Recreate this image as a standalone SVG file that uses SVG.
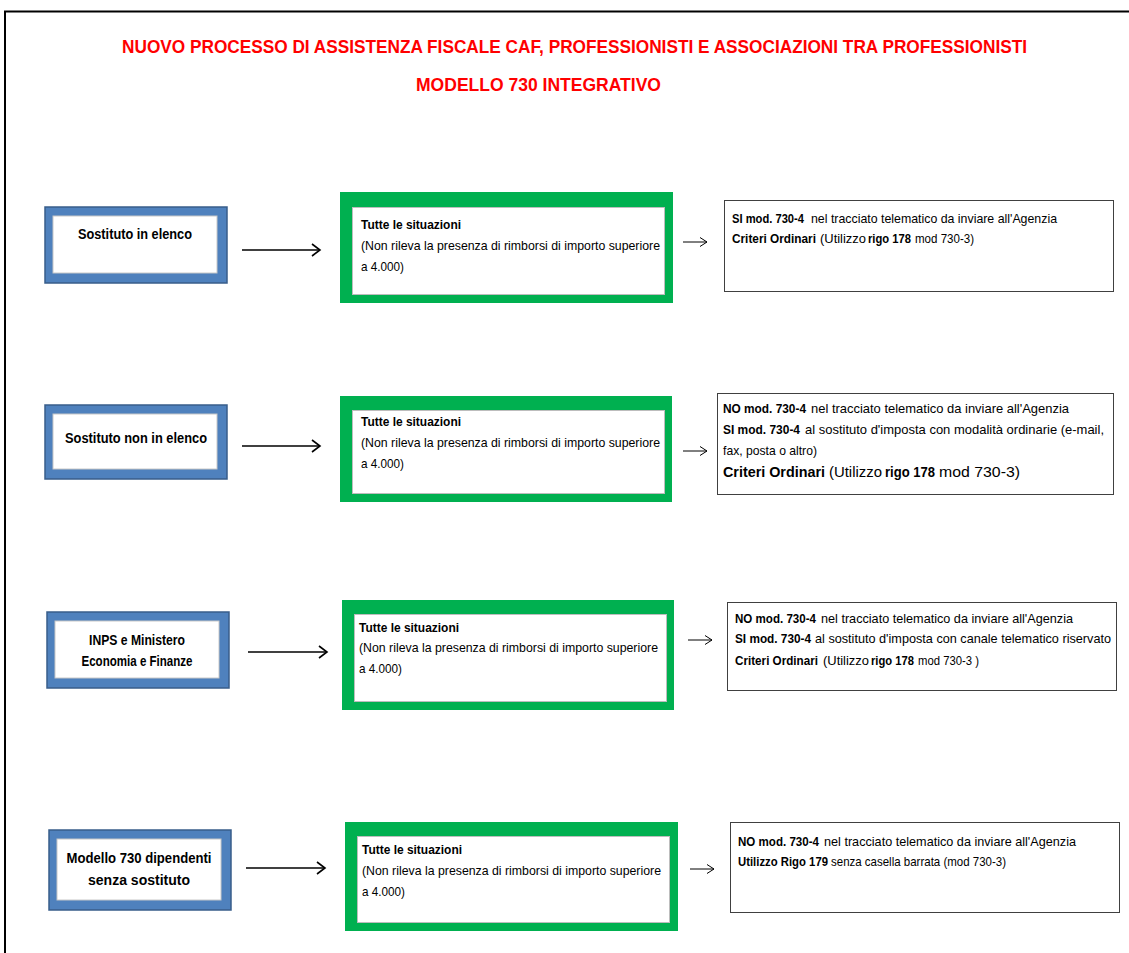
<svg xmlns="http://www.w3.org/2000/svg" width="1129" height="953" viewBox="0 0 1129 953">
<style>
.title{font-family:"Liberation Sans",Arial,sans-serif;font-weight:bold;font-size:19px;fill:#FF0000}
.src{fill:#4F81BD;stroke:#385D8A;stroke-width:1.5}
.srcin{fill:#fff;stroke:#C8C8C8;stroke-width:1}
.srct{font-family:"Liberation Sans",Arial,sans-serif;font-weight:bold;font-size:14px;fill:#000;text-anchor:middle}
.grn{fill:#00B050}
.grnin{fill:#fff;stroke:#BDBDBD;stroke-width:1}
.t{font-family:"Liberation Sans",Arial,sans-serif;font-size:13px;fill:#000}
.b{font-weight:bold}
.lg{font-size:14px}
.res{fill:#fff;stroke:#404040;stroke-width:1}
.big{stroke:#000;stroke-width:1.6;fill:none}
.sm{stroke:#000;stroke-width:1;fill:none}
</style>
<defs>
<marker id="ah" markerUnits="userSpaceOnUse" markerWidth="12" markerHeight="14" refX="10" refY="7" orient="auto">
<path d="M2,1 L10,7 L2,13" fill="none" stroke="#000" stroke-width="1.6"/>
</marker>
<marker id="ahs" markerUnits="userSpaceOnUse" markerWidth="12" markerHeight="12" refX="10" refY="6" orient="auto">
<path d="M3,1.5 L10,6 L3,10.5" fill="none" stroke="#000" stroke-width="1"/>
</marker>
</defs>
<rect width="1129" height="953" fill="#fff"/>
<path d="M5,953 L5,11.5 L1129,11.5" fill="none" stroke="#000" stroke-width="2"/>
<g id="title">
<text class="title" x="574.5" y="53" text-anchor="middle" textLength="905" lengthAdjust="spacingAndGlyphs">NUOVO PROCESSO DI  ASSISTENZA FISCALE CAF, PROFESSIONISTI E ASSOCIAZIONI TRA PROFESSIONISTI</text>
<text class="title" x="538.5" y="91" text-anchor="middle" textLength="245" lengthAdjust="spacingAndGlyphs">MODELLO 730 INTEGRATIVO</text>
</g>

<!-- Row 1 -->
<g id="src1">
<rect class="src" x="45" y="207" width="182" height="76"/>
<rect class="srcin" x="53" y="216" width="164" height="57"/>
<text class="srct" x="135" y="239" textLength="114" lengthAdjust="spacingAndGlyphs">Sostituto in elenco</text>
</g>
<g id="sit1">
<rect class="grn" x="340" y="192" width="333" height="111"/>
<rect class="grnin" x="352.5" y="207.5" width="312" height="87"/>
<text class="t b" x="361" y="229" textLength="100" lengthAdjust="spacingAndGlyphs">Tutte le situazioni</text>
<text class="t" x="361" y="250" textLength="299" lengthAdjust="spacingAndGlyphs">(Non rileva la presenza di rimborsi di importo superiore</text>
<text class="t" x="361" y="271" textLength="43" lengthAdjust="spacingAndGlyphs">a 4.000)</text>
</g>
<g id="res1">
<rect class="res" x="724.5" y="200.5" width="389" height="91"/>
<text class="t b" x="732" y="223" textLength="72" lengthAdjust="spacingAndGlyphs">SI mod. 730-4</text>
<text class="t" x="811" y="223" textLength="246" lengthAdjust="spacingAndGlyphs">nel tracciato telematico da inviare all'Agenzia</text>
<text class="t b" x="732" y="243" textLength="84" lengthAdjust="spacingAndGlyphs">Criteri Ordinari</text>
<text class="t" x="820" y="243" textLength="46" lengthAdjust="spacingAndGlyphs">(Utilizzo</text>
<text class="t b" x="868" y="243" textLength="43" lengthAdjust="spacingAndGlyphs">rigo 178</text>
<text class="t" x="915" y="243" textLength="59" lengthAdjust="spacingAndGlyphs">mod 730-3)</text>
</g>

<!-- Row 2 -->
<g id="src2">
<rect class="src" x="45" y="405" width="182" height="74"/>
<rect class="srcin" x="53" y="414" width="164" height="55"/>
<text class="srct" x="136" y="443" textLength="142" lengthAdjust="spacingAndGlyphs">Sostituto non in elenco</text>
</g>
<g id="sit2">
<rect class="grn" x="340" y="396" width="332" height="106"/>
<rect class="grnin" x="352.5" y="410.5" width="312" height="83"/>
<text class="t b" x="361" y="426" textLength="100" lengthAdjust="spacingAndGlyphs">Tutte le situazioni</text>
<text class="t" x="361" y="447" textLength="299" lengthAdjust="spacingAndGlyphs">(Non rileva la presenza di rimborsi di importo superiore</text>
<text class="t" x="361" y="468" textLength="43" lengthAdjust="spacingAndGlyphs">a 4.000)</text>
</g>
<g id="res2">
<rect class="res" x="717.5" y="393.5" width="396" height="101"/>
<text class="t b" x="723" y="413" textLength="83" lengthAdjust="spacingAndGlyphs">NO  mod. 730-4</text>
<text class="t" x="811" y="413" textLength="258" lengthAdjust="spacingAndGlyphs">nel tracciato telematico da inviare all'Agenzia</text>
<text class="t b" x="723" y="434" textLength="77" lengthAdjust="spacingAndGlyphs">SI  mod. 730-4</text>
<text class="t" x="805" y="434" textLength="299" lengthAdjust="spacingAndGlyphs">al sostituto d'imposta con modalità ordinarie (e-mail,</text>
<text class="t" x="723" y="455" textLength="94" lengthAdjust="spacingAndGlyphs">fax, posta o altro)</text>
<text class="t b lg" x="723" y="477" textLength="102" lengthAdjust="spacingAndGlyphs">Criteri Ordinari</text>
<text class="t lg" x="829" y="477" textLength="53" lengthAdjust="spacingAndGlyphs">(Utilizzo</text>
<text class="t b lg" x="885" y="477" textLength="50" lengthAdjust="spacingAndGlyphs">rigo 178</text>
<text class="t lg" x="939" y="477" textLength="81" lengthAdjust="spacingAndGlyphs">mod  730-3)</text>
</g>

<!-- Row 3 -->
<g id="src3">
<rect class="src" x="47" y="612" width="182" height="76"/>
<rect class="srcin" x="55" y="621" width="164" height="57"/>
<text class="srct" x="137" y="645" textLength="96" lengthAdjust="spacingAndGlyphs">INPS e Ministero</text>
<text class="srct" x="137" y="666" textLength="111" lengthAdjust="spacingAndGlyphs">Economia e Finanze</text>
</g>
<g id="sit3">
<rect class="grn" x="342" y="600" width="332" height="110"/>
<rect class="grnin" x="354.5" y="614.5" width="312" height="87"/>
<text class="t b" x="359" y="632" textLength="100" lengthAdjust="spacingAndGlyphs">Tutte le situazioni</text>
<text class="t" x="359" y="652" textLength="299" lengthAdjust="spacingAndGlyphs">(Non rileva la presenza di rimborsi di importo superiore</text>
<text class="t" x="359" y="673" textLength="43" lengthAdjust="spacingAndGlyphs">a 4.000)</text>
</g>
<g id="res3">
<rect class="res" x="727.5" y="602.5" width="389" height="88"/>
<text class="t b" x="735" y="623" textLength="81" lengthAdjust="spacingAndGlyphs">NO  mod. 730-4</text>
<text class="t" x="821" y="623" textLength="252" lengthAdjust="spacingAndGlyphs">nel tracciato telematico da inviare all'Agenzia</text>
<text class="t b" x="735" y="643" textLength="76" lengthAdjust="spacingAndGlyphs">SI  mod. 730-4</text>
<text class="t" x="815" y="643" textLength="296" lengthAdjust="spacingAndGlyphs">al sostituto d'imposta  con canale telematico riservato</text>
<text class="t b" x="735" y="665" textLength="83" lengthAdjust="spacingAndGlyphs">Criteri Ordinari</text>
<text class="t" x="823" y="665" textLength="46" lengthAdjust="spacingAndGlyphs">(Utilizzo</text>
<text class="t b" x="871" y="665" textLength="43" lengthAdjust="spacingAndGlyphs">rigo 178</text>
<text class="t" x="918" y="665" textLength="61" lengthAdjust="spacingAndGlyphs">mod 730-3 )</text>
</g>

<!-- Row 4 -->
<g id="src4">
<rect class="src" x="49" y="830" width="182" height="80"/>
<rect class="srcin" x="57" y="839" width="164" height="61"/>
<text class="srct" x="139" y="863" textLength="145" lengthAdjust="spacingAndGlyphs">Modello 730 dipendenti</text>
<text class="srct" x="139" y="885" textLength="102" lengthAdjust="spacingAndGlyphs">senza sostituto</text>
</g>
<g id="sit4">
<rect class="grn" x="345" y="822" width="333" height="109"/>
<rect class="grnin" x="357.5" y="836.5" width="312" height="86"/>
<text class="t b" x="362" y="854" textLength="100" lengthAdjust="spacingAndGlyphs">Tutte le situazioni</text>
<text class="t" x="362" y="875" textLength="299" lengthAdjust="spacingAndGlyphs">(Non rileva la presenza di rimborsi di importo superiore</text>
<text class="t" x="362" y="896" textLength="43" lengthAdjust="spacingAndGlyphs">a 4.000)</text>
</g>
<g id="res4">
<rect class="res" x="730.5" y="822.5" width="389" height="90"/>
<text class="t b" x="738" y="846" textLength="81" lengthAdjust="spacingAndGlyphs">NO  mod. 730-4</text>
<text class="t" x="824" y="846" textLength="252" lengthAdjust="spacingAndGlyphs">nel tracciato telematico da inviare all'Agenzia</text>
<text class="t b" x="738" y="866" textLength="90" lengthAdjust="spacingAndGlyphs">Utilizzo Rigo 179</text>
<text class="t" x="831" y="866" textLength="175" lengthAdjust="spacingAndGlyphs">senza casella barrata  (mod 730-3)</text>
</g>

<g id="connectors">
<line class="big" x1="242" y1="250" x2="320" y2="250" marker-end="url(#ah)"/>
<line class="sm" x1="683" y1="242" x2="707" y2="242" marker-end="url(#ahs)"/>
<line class="big" x1="242" y1="446" x2="320" y2="446" marker-end="url(#ah)"/>
<line class="sm" x1="683" y1="451" x2="707" y2="451" marker-end="url(#ahs)"/>
<line class="big" x1="248" y1="652" x2="327" y2="652" marker-end="url(#ah)"/>
<line class="sm" x1="688" y1="640" x2="712" y2="640" marker-end="url(#ahs)"/>
<line class="big" x1="246" y1="868" x2="325" y2="868" marker-end="url(#ah)"/>
<line class="sm" x1="690" y1="869" x2="714" y2="869" marker-end="url(#ahs)"/>
</g>
</svg>
